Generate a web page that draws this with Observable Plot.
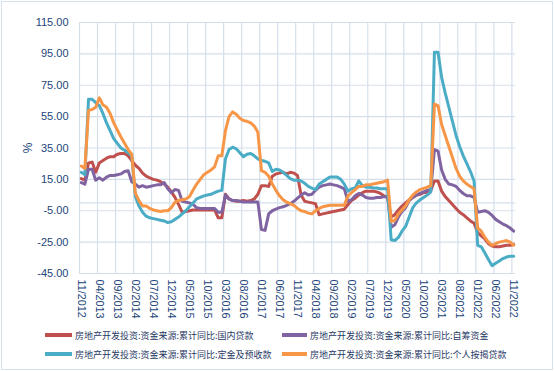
<!DOCTYPE html>
<html>
<head>
<meta charset="utf-8">
<script src="https://cdn.jsdelivr.net/npm/d3@7"></script>
<script src="https://cdn.jsdelivr.net/npm/@observablehq/plot@0.6"></script>
<style>
  html, body { margin: 0; padding: 0; background: #fff; }
  #wrap { position: relative; width: 554px; height: 371px; overflow: hidden; background: #fff; }
  #frame { position: absolute; left: 1px; top: 1px; width: 550px; height: 367px; border: 1.5px solid #D6E2F0; }
  #plot { position: absolute; left: 0; top: 0; }
  .leg { position: absolute; height: 12px; display: flex; align-items: center; font-family: "Noto Sans CJK SC", sans-serif; font-size: 9px; color: #1F3864; white-space: nowrap; }
  .sw { display: inline-block; height: 3.5px; margin-right: 3px; }
</style>
</head>
<body>
<div id="wrap">
  <div id="frame"></div>
  <div id="plot"></div>
  <div id="legend"></div>
</div>
<script>
// ---- data (monthly, 11/2012 .. 11/2022) ----
const seriesNames = [
  "房地产开发投资:资金来源:累计同比:国内贷款",
  "房地产开发投资:资金来源:累计同比:自筹资金",
  "房地产开发投资:资金来源:累计同比:定金及预收款",
  "房地产开发投资:资金来源:累计同比:个人按揭贷款"
];
const seriesColors = ["#C0504D", "#8064A2", "#4BACC6", "#F79646"];

const domesticLoans = [15.5,14.5,25.5,26,19.5,25.5,27,28.5,29.5,29.5,31,31.5,31.5,30,27,24,22,19,17,16,15,14.5,13.5,12,10,7,3.5,-1,-6,-5.5,-5,-4.5,-4.5,-4.5,-4.5,-4.5,-4.5,-4.5,-9.5,-9.5,5.5,2.5,1.5,1,1,1.5,1,1.5,2.5,5.5,11,11,10.5,17,18.5,19,19.5,18.5,19.5,19,17.5,5,1,0.5,0,-0.5,-7.5,-7,-6.5,-6,-5.5,-5,-4.5,-4,-1,1.5,3,5,6.5,7.5,7.5,7.5,7,6,4.5,3.5,-9,-7.5,-4.5,-2,0,2,3.5,5,5.5,6.5,7,8,14,14,7.5,4,1.5,-1,-3.5,-6,-7.5,-9.5,-11.5,-13,-19,-21,-23,-26,-27.5,-28,-28,-27.5,-27,-27,-26.5];

const selfRaised = [13,12,21.5,21.5,14.5,16,14.5,16.5,17.5,17.5,18,18.5,20,20.5,13.5,12,10,11,10,10.5,11,11.5,11.5,13,9,6.5,8.5,8,1,0.5,0,-1,-3,-3.5,-3.5,-3.5,-3.5,-3.5,-6,-6,5,2.5,1.5,1.5,1,0.5,0.5,0.5,0.5,0.5,-17,-17.5,-7,-5,-4,-3,-2.5,-1.5,-0.5,1,3,5,6.5,5,5.5,8,10,11,11.5,12,11.5,11,10,9,1,2,4.5,6,5,3.5,3,3,3.5,3.5,4,4,-15.5,-14,-9,-5.5,-3,1.5,3.5,5,6,7,8,8.5,34,33,21,15,12,11.5,10.5,8,6,4.5,4.5,3.5,-6,-5.5,-5,-6,-8,-10.5,-12,-13.5,-14.5,-16,-18];

const depositsAdvance = [19.5,18,66,66,64,62,57,51,46,41,38,35,33.5,32,30,4,-2,-6,-8.5,-9.5,-10,-10.5,-11,-11.5,-12.5,-12,-10.5,-9,-7,-5,-2.5,0,2.5,3.5,4.5,5,5.5,6.5,7.5,8,28,34,35.5,34.5,32,29.5,31,31.5,30,28,27,26.5,25.5,20,21.5,21,19.5,17.5,15.5,14.5,14.5,14,12.5,10.5,9.5,8.5,12,13.5,15,16.5,16.5,16.5,15,12,7.5,9,9.5,14,11,10,10,9.5,9.5,9,9,9,-23.5,-24,-22,-18,-15,-9,-3,0,2,3.5,5,7,96,96,80,70,61,52,43,36,30,25,20,14,-27,-28,-32,-36,-40,-38.5,-37,-35.5,-34.5,-34,-34];

const mortgages = [23.5,22,59,59.5,61,67,62.5,61,57,51,46.5,42,38,34,31,6,1.5,-2,-2,-3.5,-4.5,-5,-5.5,-5,-5,-3,0.5,1.5,2,2.5,4,8,12,15,18,19.5,21,23,30,30,46,55,58,56.5,54,52.5,52,51,49,45,20.5,19.5,17,12,8,4.5,2,0.5,-0.5,-1.5,-3.5,-5,-5.5,-6.5,-7,-5,-3.5,-2.5,-2,-1.5,-1.5,-1.5,-1.5,-1.5,4.5,6.5,8.5,10.5,10.5,11.5,11.5,12,12.5,13,13.5,14.5,-12,-11,-7,-4.5,-2,2,5,7,8.5,9.3,10,11,63,62,50,43,36,29,22,17,14,12,10.5,9,-16,-18,-22,-25,-27,-26,-25,-24.5,-24,-25,-27];

const yTicks = [-45, -25, -5, 15, 35, 55, 75, 95, 115];
const xTickLabels = ["11/2012","04/2013","09/2013","02/2014","07/2014","12/2014","05/2015","10/2015","03/2016","08/2016","01/2017","06/2017","11/2017","04/2018","09/2018","02/2019","07/2019","12/2019","05/2020","10/2020","03/2021","08/2021","01/2022","06/2022","11/2022"];

// ---- build table ----
const allSeries = [domesticLoans, selfRaised, depositsAdvance, mortgages];
const rows = [];
allSeries.forEach((vals, si) => vals.forEach((v, m) => rows.push({m, v, s: seriesNames[si]})));
const nMonths = domesticLoans.length;
const xTickIdx = xTickLabels.map((_, i) => i * 5);
const gridX = xTickIdx.map(i => i - 0.5);

const grid = "#D5DFEC";
const textColor = "#22457A";

const chart = Plot.plot({
  width: 554,
  height: 322,
  marginLeft: 79,
  marginRight: 39,
  marginTop: 22,
  marginBottom: 49,
  style: {fontFamily: "'Liberation Sans', Arial, sans-serif", background: "transparent", color: textColor},
  x: {domain: [-0.5, nMonths - 0.5]},
  y: {domain: [-45, 115]},
  color: {domain: seriesNames, range: seriesColors},
  marks: [
    Plot.ruleY(yTicks, {stroke: grid, strokeWidth: 1.2}),
    Plot.ruleY([0], {stroke: grid, strokeWidth: 1.2}),
    Plot.ruleX(gridX, {stroke: grid, strokeWidth: 1.2}),
    Plot.axisY({
      ticks: yTicks, tickFormat: d => d.toFixed(2), tickSize: 0, tickPadding: 11,
      fontSize: 11, fill: textColor,
      label: "%", labelAnchor: "center", labelArrow: "none", labelOffset: 56
    }),
    Plot.axisX({
      ticks: xTickIdx, tickFormat: (d, i) => xTickLabels[i], tickSize: 0, tickPadding: 6,
      tickRotate: 90, fontSize: 10.8, fill: textColor, label: null
    }),
    Plot.lineY(rows, {x: "m", y: "v", z: "s", stroke: "s", strokeWidth: 3, strokeLinejoin: "round"})
  ]
});
chart.style.fontSize = "11px";
document.getElementById("plot").appendChild(chart);

// fix y-axis label font size
chart.querySelectorAll("text").forEach(t => { if (t.textContent === "%") t.setAttribute("font-size", "12"); });

// ---- legend ----
const legendPos = [
  {left: 45, top: 329, sw: 27},
  {left: 282, top: 329, sw: 25},
  {left: 45, top: 348, sw: 27},
  {left: 282, top: 348, sw: 25}
];
const leg = document.getElementById("legend");
seriesNames.forEach((name, i) => {
  const d = document.createElement("div");
  d.className = "leg";
  d.style.left = legendPos[i].left + "px";
  d.style.top = legendPos[i].top + "px";
  const s = document.createElement("span");
  s.className = "sw";
  s.style.width = legendPos[i].sw + "px";
  s.style.background = seriesColors[i];
  d.appendChild(s);
  const t = document.createElement("span");
  t.textContent = name;
  d.appendChild(t);
  leg.appendChild(d);
});
</script>
</body>
</html>
